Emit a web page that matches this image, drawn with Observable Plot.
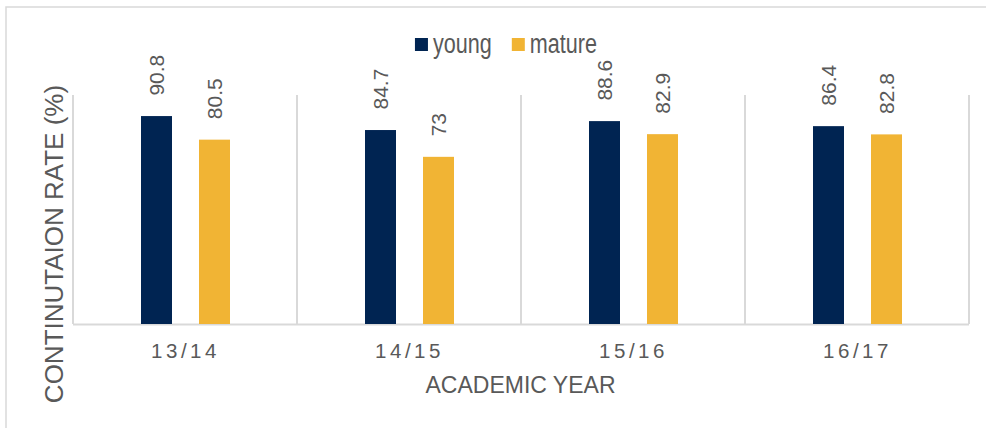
<!DOCTYPE html>
<html><head><meta charset="utf-8">
<script src="https://cdn.jsdelivr.net/npm/d3@7"></script>
<script src="https://cdn.jsdelivr.net/npm/@observablehq/plot@0.6"></script>
<style>
html,body{margin:0;padding:0;background:#fff;}
#chart{position:relative;width:986px;height:428px;overflow:hidden;}
</style></head><body><div id="chart"></div>
<script>
const years = ["13/14", "14/15", "15/16", "16/17"];
const groups = ["young", "mature"];
const young = [90.8, 84.7, 88.6, 86.4];
const mature = [80.5, 73, 82.9, 82.8];
const colors = ["#002452", "#F1B434"];
const yLabel = "CONTINUTAION RATE (%)";
const xLabel = "ACADEMIC YEAR";

const data = years.flatMap((year, i) => [
  {year, group: groups[0], value: young[i]},
  {year, group: groups[1], value: mature[i]}
]);

const TEXT = "#595959";
const GRID = "#d9d9d9";
const REG = "'Liberation Sans', Arial, sans-serif";
const NARROW_RATIO = 0.8;

// compress glyphs horizontally (narrow face look) while keeping real text
function narrow(sel) {
  sel.each(function() {
    const len = this.getComputedTextLength();
    if (len > 0) {
      this.setAttribute("textLength", (len * NARROW_RATIO).toFixed(2));
      this.setAttribute("lengthAdjust", "spacingAndGlyphs");
    }
  });
}

const plot = Plot.plot({
  width: 986, height: 428,
  marginLeft: 72, marginRight: 17, marginTop: 95, marginBottom: 104,
  style: {fontFamily: REG, color: TEXT, background: "white", overflow: "visible"},
  facet: {data, x: "year"},
  fx: {domain: years, padding: 0, axis: "bottom", label: null, tickSize: 0, tickPadding: 19},
  x: {domain: groups, paddingInner: 0.466, paddingOuter: 1.164, axis: null},
  y: {domain: [0, 100], axis: null},
  color: {domain: groups, range: colors},
  marks: [
    Plot.ruleY([0], {stroke: GRID, strokeWidth: 2}),
    Plot.barY(data, {x: "group", y: "value", fill: "group"}),
    Plot.text(data, {
      x: "group", y: "value", text: d => String(d.value),
      rotate: -90, textAnchor: "start", dy: -21,
      fill: TEXT, fontSize: 21, fontFamily: REG, ariaLabel: "value-labels"
    })
  ]
});

document.getElementById("chart").appendChild(plot);
const svg = d3.select(plot);

// value labels: narrow look
narrow(svg.selectAll('g[aria-label="value-labels"] text'));

// tick labels styling
svg.selectAll('g[aria-label^="fx-axis"] text')
  .style("font-size", "20.5px").style("letter-spacing", "3.5px").style("fill", TEXT).attr("fill", TEXT);

// vertical category boundary gridlines from the fx and y scales
const fx = plot.scale("fx");
const ys = plot.scale("y");
const bounds = years.map(y => fx.apply(y)).concat([fx.apply(years[years.length - 1]) + fx.bandwidth]);
const gGrid = svg.insert("g", ":first-child");
gGrid.selectAll("line").data(bounds).join("line")
  .attr("x1", d => d).attr("x2", d => d)
  .attr("y1", ys.apply(100)).attr("y2", ys.apply(0))
  .attr("stroke", GRID).attr("stroke-width", 2);

// outer border
svg.append("rect").attr("x", 6).attr("y", 7).attr("width", 990).attr("height", 440)
  .attr("fill", "none").attr("stroke", GRID).attr("stroke-width", 1.5);

// axis titles
svg.append("text").text(xLabel)
  .attr("x", (fx.range[0] + fx.range[1]) / 2).attr("y", 393)
  .attr("text-anchor", "middle").attr("fill", TEXT)
  .style("font-family", REG).style("font-size", "23px");
svg.append("text").text(yLabel)
  .attr("transform", "translate(63,244) rotate(-90)")
  .attr("text-anchor", "middle").attr("fill", TEXT)
  .style("font-family", REG).style("font-size", "26px");

// legend
const color = plot.scale("color");
const leg = svg.append("g");
let cx = 0;
color.domain.forEach((g, i) => {
  const item = leg.append("g").attr("transform", `translate(${cx},0)`);
  item.append("rect").attr("x", 0).attr("y", -15).attr("width", 13).attr("height", 13).attr("fill", color.range[i]);
  const t = item.append("text").text(g).attr("x", 18).attr("y", 0).attr("fill", TEXT)
    .attr("text-anchor", "start")
    .style("font-family", REG).style("font-size", "27px");
  narrow(t);
  cx += 18 + (+t.attr("textLength")) + 20;
});
const legW = cx - 20;
leg.attr("transform", `translate(${506 - legW / 2},53)`);
</script></body></html>
